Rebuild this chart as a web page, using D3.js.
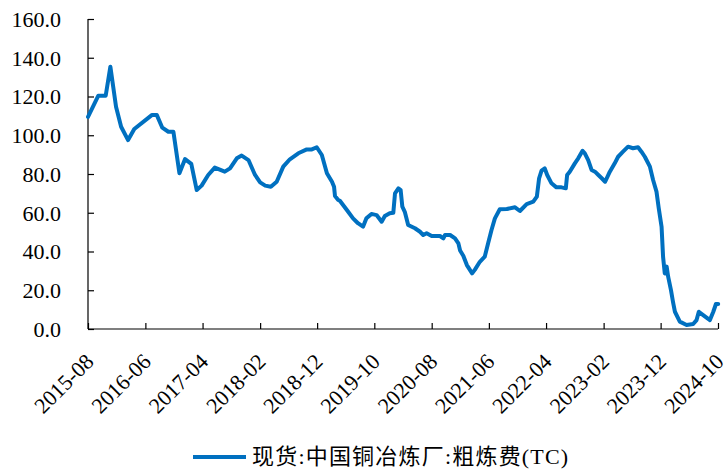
<!DOCTYPE html>
<html>
<head>
<meta charset="utf-8">
<script src="https://cdn.jsdelivr.net/npm/d3@7/dist/d3.min.js"></script>
<style>
  html, body { margin: 0; padding: 0; background: #fff; }
  svg { display: block; }
  text { font-family: "Liberation Serif", "Times New Roman", "Noto Sans CJK SC", serif; fill: #000; }
</style>
</head>
<body>
<svg id="chart" width="725" height="469"></svg>
<script>
// Spot treatment charge (TC) at Chinese copper smelters, USD/t
const seriesName = "现货:中国铜冶炼厂:粗炼费(TC)";

const dates = [
  "2015-08-01","2015-09-25","2015-11-03","2015-11-28","2015-12-28","2016-01-24","2016-03-01","2016-04-03",
  "2016-07-05","2016-08-01","2016-08-30","2016-10-01","2016-10-28","2016-11-29","2016-12-29","2017-01-31",
  "2017-03-01","2017-03-27","2017-05-01","2017-06-05","2017-07-28","2017-08-25","2017-09-30","2017-10-26",
  "2017-12-01","2018-01-05","2018-02-01","2018-02-28","2018-03-30","2018-04-30","2018-06-04","2018-07-09",
  "2018-08-23","2018-10-07","2018-11-03","2018-11-29","2018-12-26","2019-01-22","2019-02-18","2019-03-01",
  "2019-03-06","2019-03-23","2019-04-01","2019-04-18","2019-05-15","2019-06-10","2019-07-06","2019-08-02",
  "2019-08-20","2019-09-16","2019-10-13","2019-11-09","2019-11-26","2019-12-22","2020-01-10","2020-01-19",
  "2020-02-06","2020-02-18","2020-02-27","2020-03-11","2020-03-29","2020-05-04","2020-05-31","2020-06-17",
  "2020-07-05","2020-08-01","2020-09-14","2020-10-02","2020-10-11","2020-11-07","2020-12-03","2020-12-21",
  "2020-12-30","2021-01-16","2021-02-04","2021-03-04","2021-03-18","2021-04-14","2021-05-10","2021-05-28",
  "2021-06-15","2021-07-03","2021-07-29","2021-09-04","2021-10-18","2021-11-13","2021-12-19","2022-01-23",
  "2022-02-11","2022-02-23","2022-03-08","2022-03-25","2022-04-07","2022-04-30","2022-05-26","2022-06-22",
  "2022-07-15","2022-07-22","2022-08-05","2022-09-01","2022-09-19","2022-10-12","2022-10-24","2022-11-11",
  "2022-11-29","2022-12-17","2023-01-04","2023-01-22","2023-02-09","2023-03-06","2023-04-01","2023-04-19",
  "2023-05-15","2023-06-11","2023-07-07","2023-08-03","2023-08-21","2023-09-08","2023-10-05","2023-10-22",
  "2023-11-09","2023-11-21","2023-12-06","2023-12-14","2023-12-23","2024-01-02","2024-01-10","2024-01-25",
  "2024-02-06","2024-02-15","2024-03-12","2024-04-17","2024-05-22","2024-06-09","2024-06-21","2024-07-14",
  "2024-08-19","2024-09-06","2024-09-20","2024-10-02"
];

const tcValues = [
  109.5,120.4,120.4,135.4,114.7,104.4,97.5,103.2,
  110.4,110.4,103.9,101.8,101.8,80.4,87.7,85.2,
  71.7,74.0,79.5,83.3,81.2,82.9,88.1,89.5,
  87.2,79.5,75.7,74.0,73.4,76.0,83.8,87.6,
  90.7,92.7,92.7,93.8,89.8,80.4,76.0,73.4,
  68.6,66.6,66.2,64.0,60.5,57.1,54.6,52.8,
  57.1,59.4,58.8,55.4,58.3,59.7,60.0,70.0,
  72.6,71.7,63.1,60.5,53.7,52.0,50.2,48.5,
  49.4,48.0,48.0,46.8,48.5,48.5,46.8,44.2,
  40.5,37.8,33.0,28.7,30.5,34.7,37.3,44.2,
  51.1,57.1,61.8,61.9,62.8,60.9,64.5,65.7,
  68.3,77.8,81.7,82.9,79.5,75.2,73.1,73.1,
  72.6,79.5,81.2,85.5,88.1,92.0,90.7,87.2,
  82.1,81.2,79.5,77.8,76.0,81.2,85.5,88.9,
  91.5,94.1,93.3,93.8,91.5,88.9,83.8,76.9,
  70.9,62.3,52.8,37.3,28.7,32.2,27.0,20.1,
  13.3,8.9,3.8,2.1,2.6,4.6,8.9,7.2,
  4.6,8.9,12.9,12.9
];

const tickLabels = ["2015-08","2016-06","2017-04","2018-02","2018-12","2019-10",
                    "2020-08","2021-06","2022-04","2023-02","2023-12","2024-10"];
const yTicks = [0, 20, 40, 60, 80, 100, 120, 140, 160];

const parseDay = d3.timeParse("%Y-%m-%d");
const parseMonth = d3.timeParse("%Y-%m");
const points = dates.map((d, i) => ({ date: parseDay(d), value: tcValues[i] }));
const tickDates = tickLabels.map(parseMonth);

const plotLeft = 88, plotRight = 718, plotTop = 19, plotBottom = 329;
const lineColor = "#0070C0";

const svg = d3.select("#chart");

const x = d3.scaleTime()
  .domain([tickDates[0], tickDates[tickDates.length - 1]])
  .range([plotLeft, plotRight]);
const y = d3.scaleLinear().domain([0, 160]).range([plotBottom, plotTop]);

// Y axis: ticks point into the plot
const yAxis = svg.append("g")
  .attr("transform", `translate(${plotLeft},0)`)
  .call(d3.axisRight(y).tickValues(yTicks).tickSize(6).tickFormat(""));
yAxis.select(".domain").attr("d", `M0,${plotTop}V${plotBottom}`);
yAxis.selectAll("line, path").attr("stroke", "#000").attr("stroke-width", 1.2);

svg.append("g").selectAll("text")
  .data(yTicks)
  .join("text")
  .attr("x", plotLeft - 27)
  .attr("y", d => y(d))
  .attr("dy", "0.36em")
  .attr("text-anchor", "end")
  .style("font-size", "22px")
  .text(d => d3.format(".1f")(d));

// X axis: ticks point upward into the plot
const xAxis = svg.append("g")
  .attr("transform", `translate(0,${plotBottom})`)
  .call(d3.axisTop(x).tickValues(tickDates).tickSize(6).tickFormat(""));
xAxis.select(".domain").attr("d", `M${plotLeft},0H${plotRight}`);
xAxis.selectAll("line, path").attr("stroke", "#000").attr("stroke-width", 1.2);

svg.append("g").selectAll("text")
  .data(tickDates)
  .join("text")
  .attr("transform", d => `translate(${x(d) + 7},${plotBottom + 34}) rotate(-45)`)
  .attr("text-anchor", "end")
  .style("font-size", "22px")
  .text((d, i) => tickLabels[i]);

// Series line
const line = d3.line()
  .x(d => x(d.date))
  .y(d => y(d.value));

svg.append("path")
  .datum(points)
  .attr("fill", "none")
  .attr("stroke", lineColor)
  .attr("stroke-width", 4)
  .attr("stroke-linejoin", "round")
  .attr("stroke-linecap", "round")
  .attr("d", line);

// Legend
const legend = svg.append("g");
legend.append("line")
  .attr("x1", 193).attr("x2", 246)
  .attr("y1", 457).attr("y2", 457)
  .attr("stroke", lineColor).attr("stroke-width", 4);
legend.append("text")
  .attr("x", 252).attr("y", 464)
  .style("font-size", "22px")
  .style("letter-spacing", "1.2px")
  .text(seriesName);
</script>
</body>
</html>
